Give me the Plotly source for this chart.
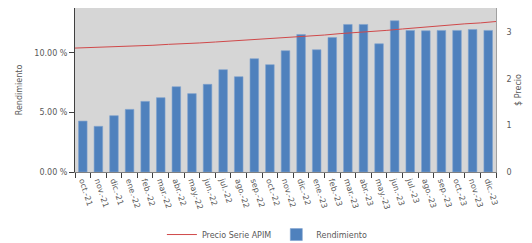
import plotly.graph_objects as go

categorias = ["oct.-21", "nov.-21", "dic.-21", "ene.-22", "feb.-22", "mar.-22", "abr.-22",
              "may.-22", "jun.-22", "jul.-22", "ago.-22", "sep.-22", "oct.-22", "nov.-22",
              "dic.-22", "ene.-23", "feb.-23", "mar.-23", "abr.-23", "may.-23", "jun.-23",
              "jul.-23", "ago.-23", "sep.-23", "oct.-23", "nov.-23", "dic.-23"]

rendimiento = [4.27, 3.83, 4.72, 5.25, 5.92, 6.23, 7.15, 6.57, 7.35, 8.58, 7.99, 9.50,
               9.00, 10.17, 11.53, 10.25, 11.28, 12.37, 12.37, 10.75, 12.68, 11.87,
               11.84, 11.87, 11.87, 11.95, 11.87]

# price at month boundaries (start of oct-21 ... end of dic-23)
precio = [2.66, 2.67, 2.68, 2.70, 2.71, 2.72, 2.74, 2.75, 2.77, 2.79, 2.81, 2.83, 2.85,
          2.87, 2.90, 2.92, 2.94, 2.97, 2.99, 3.02, 3.04, 3.07, 3.10, 3.12, 3.15, 3.18,
          3.20, 3.23]

rend_ticks = [0, 5, 10]
precio_ticks = [0, 1, 2, 3]

x_bar = list(range(len(categorias)))
x_line = [i - 0.5 for i in range(len(precio))]

fig = go.Figure()
fig.add_trace(go.Scatter(
    x=x_line, y=precio, mode="lines", name="Precio Serie APIM",
    line=dict(color="#D0494A", width=1), yaxis="y2"))
fig.add_trace(go.Bar(
    x=x_bar, y=rendimiento, name="Rendimiento",
    marker=dict(color="#4F81BD", line=dict(color="#7FA3CF", width=0.6)),
    width=0.55))

fnt = dict(family="DejaVu Sans", size=8, color="#595959")
# page body has an 8px margin, so the figure is sized to fill the remaining window
fig.update_layout(
    width=524, height=235,
    margin=dict(l=67, r=36, t=0, b=71, autoexpand=False),
    paper_bgcolor="white", plot_bgcolor="#D6D6D6",
    font=fnt,
    showlegend=True,
    legend=dict(orientation="h", x=0.457, xanchor="center",
                yref="container", y=0.036, yanchor="middle",
                font=fnt, itemwidth=30, bgcolor="rgba(0,0,0,0)"),
    xaxis=dict(range=[-0.5, len(categorias) - 0.5], tickmode="array",
               tickvals=x_bar, ticktext=categorias, tickangle=72,
               showgrid=False, zeroline=False, showline=True, linecolor="#808080",
               ticks="", tickfont=fnt, automargin=False,
               minor=dict(tickvals=x_line, ticks="outside", ticklen=5, tickcolor="#404040")),
    yaxis=dict(range=[0, 13.75], tickmode="array", tickvals=rend_ticks,
               ticktext=[f"{v:.2f} %" for v in rend_ticks],
               showgrid=False, zeroline=False, showline=True,
               linecolor="#404040", ticks="outside", ticklen=5, tickcolor="#404040",
               tickfont=fnt, automargin=False,
               title=dict(text="Rendimiento", font=fnt, standoff=10)),
    yaxis2=dict(range=[0, 3.52], tickmode="array", tickvals=precio_ticks,
                overlaying="y", side="right",
                showgrid=False, zeroline=False, showline=True, linecolor="#A0A0A0",
                ticks="", tickfont=fnt, automargin=False, ticklabelstandoff=8,
                title=dict(text="$ Precio", font=fnt, standoff=4)),
)

fig.write_html("out.html")
